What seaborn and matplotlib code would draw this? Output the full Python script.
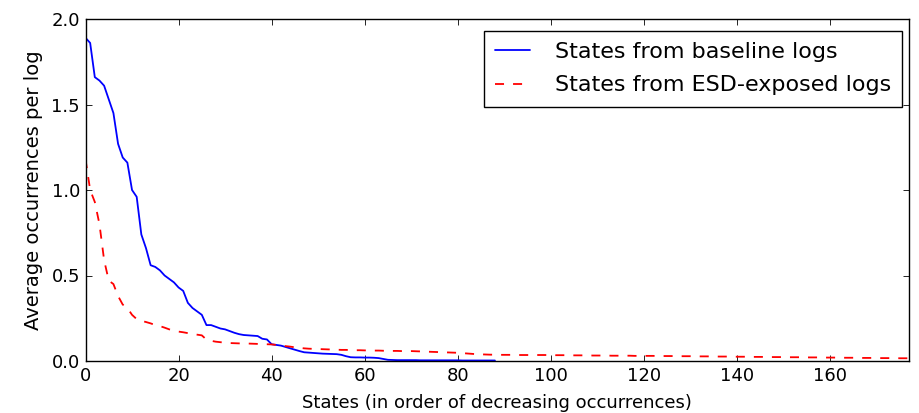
import numpy as np
import pandas as pd
import matplotlib
matplotlib.use("Agg")
import matplotlib.pyplot as plt
import seaborn as sns

baseline = [
    1.89, 1.86, 1.66, 1.64, 1.61, 1.53, 1.45, 1.27, 1.19, 1.16,
    1.00, 0.96, 0.74, 0.66, 0.56, 0.55, 0.53, 0.50, 0.48, 0.46,
    0.43, 0.41, 0.34, 0.31, 0.29, 0.27, 0.21, 0.21, 0.20, 0.19,
    0.185, 0.175, 0.165, 0.157, 0.152, 0.150, 0.148, 0.146, 0.130, 0.126,
    0.098, 0.094, 0.090, 0.082, 0.074, 0.066, 0.058, 0.051, 0.049, 0.047,
    0.045, 0.043, 0.042, 0.041, 0.040, 0.036, 0.028, 0.022, 0.021, 0.021,
    0.020, 0.020, 0.019, 0.017, 0.012, 0.007, 0.006, 0.005, 0.005, 0.005,
    0.005, 0.005, 0.004, 0.004, 0.004, 0.004, 0.004, 0.004, 0.004, 0.004,
    0.004, 0.003, 0.003, 0.003, 0.003, 0.003, 0.003, 0.003, 0.003,
]

esd = [
    1.18, 1.00, 0.93, 0.80, 0.59, 0.47, 0.45, 0.38, 0.33, 0.31,
    0.27, 0.245, 0.235, 0.228, 0.220, 0.210, 0.204, 0.195, 0.185, 0.178,
    0.172, 0.168, 0.163, 0.158, 0.154, 0.150, 0.125, 0.118, 0.113, 0.110,
    0.107, 0.105, 0.104, 0.103, 0.103, 0.102, 0.101, 0.100, 0.099, 0.098,
    0.097, 0.094, 0.091, 0.087, 0.084, 0.080, 0.077, 0.074, 0.072, 0.071,
    0.070, 0.069, 0.068, 0.067, 0.066, 0.065, 0.065, 0.064, 0.063, 0.063,
    0.062, 0.062, 0.061, 0.061, 0.060, 0.060, 0.059, 0.059, 0.058, 0.058,
    0.058, 0.057, 0.056, 0.055, 0.054, 0.053, 0.052, 0.051, 0.050, 0.049,
    0.048, 0.046, 0.044, 0.042, 0.040, 0.039, 0.038, 0.037, 0.037, 0.036,
    0.036, 0.036, 0.036, 0.035, 0.035, 0.035, 0.035, 0.035, 0.035, 0.035,
    0.035, 0.034, 0.034, 0.034, 0.034, 0.033, 0.033, 0.033, 0.033, 0.032,
    0.032, 0.032, 0.032, 0.031, 0.031, 0.031, 0.031, 0.031, 0.030, 0.030,
    0.030, 0.030, 0.030, 0.029, 0.029, 0.029, 0.029, 0.028, 0.028, 0.028,
    0.028, 0.027, 0.027, 0.027, 0.027, 0.026, 0.026, 0.026, 0.026, 0.025,
    0.025, 0.025, 0.025, 0.024, 0.024, 0.024, 0.024, 0.023, 0.023, 0.023,
    0.023, 0.022, 0.022, 0.022, 0.022, 0.021, 0.021, 0.021, 0.021, 0.020,
    0.020, 0.020, 0.020, 0.019, 0.019, 0.019, 0.019, 0.018, 0.018, 0.018,
    0.018, 0.017, 0.017, 0.017, 0.017, 0.016, 0.016, 0.016,
]

series_names = ["States from baseline logs", "States from ESD-exposed logs"]
x_label = "States (in order of decreasing occurrences)"
y_label = "Average occurrences per log"

sns.set_style("ticks")
plt.rcParams["font.family"] = ["DejaVu Sans"]
plt.rcParams.update({
    "xtick.direction": "in", "ytick.direction": "in",
    "xtick.top": True, "ytick.right": True,
    "xtick.major.size": 4, "ytick.major.size": 4,
    "xtick.major.width": 0.6, "ytick.major.width": 0.6,
    "axes.linewidth": 1.0, "axes.edgecolor": "black",
    "xtick.color": "black", "ytick.color": "black",
    "text.color": "black", "axes.labelcolor": "black",
})

df = pd.concat([
    pd.DataFrame({"state": np.arange(len(baseline)), "value": baseline, "series": series_names[0]}),
    pd.DataFrame({"state": np.arange(len(esd)), "value": esd, "series": series_names[1]}),
])

fig = plt.figure(figsize=(9.2, 4.13), dpi=100)
ax = fig.add_axes([85.5 / 920, 1 - 361 / 413, (909 - 85.5) / 920, (361 - 19) / 413])
sns.lineplot(data=df, x="state", y="value", hue="series", style="series",
             palette={series_names[0]: "blue", series_names[1]: "red"},
             dashes={series_names[0]: "", series_names[1]: (5, 5)},
             linewidth=1.3, ax=ax, legend=False)

ax.set_xlim(0, 177)
ax.set_ylim(0, 2.0)
ax.set_xticks(np.arange(0, 161, 20))
ax.set_yticks(np.arange(0, 2.01, 0.5))
ax.yaxis.set_major_formatter(matplotlib.ticker.FormatStrFormatter("%.1f"))
ax.tick_params(labelsize=13, pad=4)
ax.set_xlabel(x_label, fontsize=13, labelpad=7)
ax.set_ylabel(y_label, fontsize=14, labelpad=6)
for s in ax.spines.values():
    s.set_zorder(3)

handles = ax.get_lines()[:2]
leg = ax.legend(handles, series_names, loc="upper right",
                bbox_to_anchor=((902 - 85.5) / (909 - 85.5), (361 - 31) / 342),
                fontsize=16, frameon=True, fancybox=False, framealpha=1,
                edgecolor="black", handlelength=1.6, handletextpad=1.1,
                borderpad=0.5, labelspacing=0.6, borderaxespad=0)
leg.get_frame().set_linewidth(1.0)

fig.savefig("out.png", dpi=100, facecolor="white")
